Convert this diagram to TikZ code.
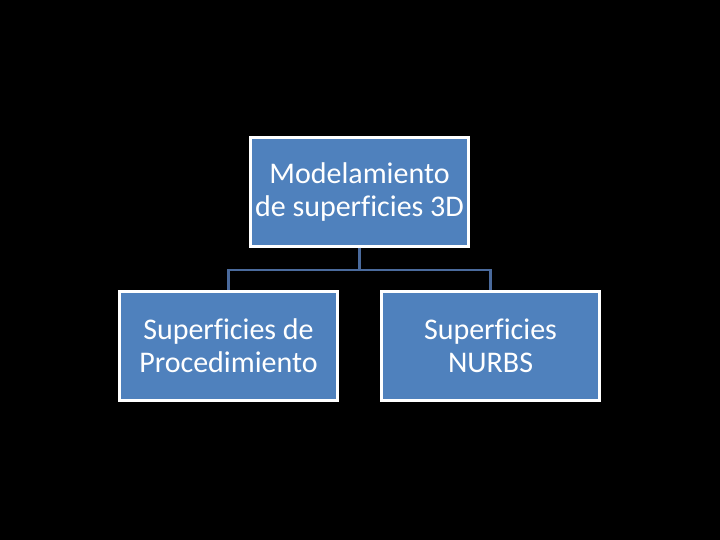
\documentclass[tikz,border=0pt]{standalone}
\usepackage{fontspec}
\setmainfont{Carlito}[Ligatures=NoCommon]
\usetikzlibrary{positioning}

\begin{document}
\begin{tikzpicture}[
    x=1pt, y=1pt,
    % GLOBAL CFG
    font=\fontsize{30}{33}\selectfont,
    % Styles
    box/.style={% For the blue boxes
        rectangle,
        draw=white,
        line width=2.5pt,
        fill=boxblue,
        text=white,
        align=center,
        inner sep=0pt,
        minimum width=218pt,
        minimum height=109pt,
        },
    link/.style={% For the tree connectors
        draw=linkblue,
        line width=2.8pt,
        },
    ]
\definecolor{boxblue}{HTML}{4F81BD}
\definecolor{linkblue}{HTML}{4A6A9C}

    % Background
    \fill [black] (0,0) rectangle (720,540);

    % Draw the boxes
    \node [box] (root) at (359.5,348) {Modelamiento\\de superficies 3D};
    \node [box] (proc) at (228.5,194) {Superficies de\\Procedimiento};
    \node [box] (nurbs) at (490.5,194) {Superficies\\NURBS};

    % Connect them
    \coordinate (fork) at (359.5,270);
    \draw [link] (root.south) -- (fork);
    \draw [link] (fork) -| (proc.north);
    \draw [link] (fork) -| (nurbs.north);

\end{tikzpicture}
\end{document}
